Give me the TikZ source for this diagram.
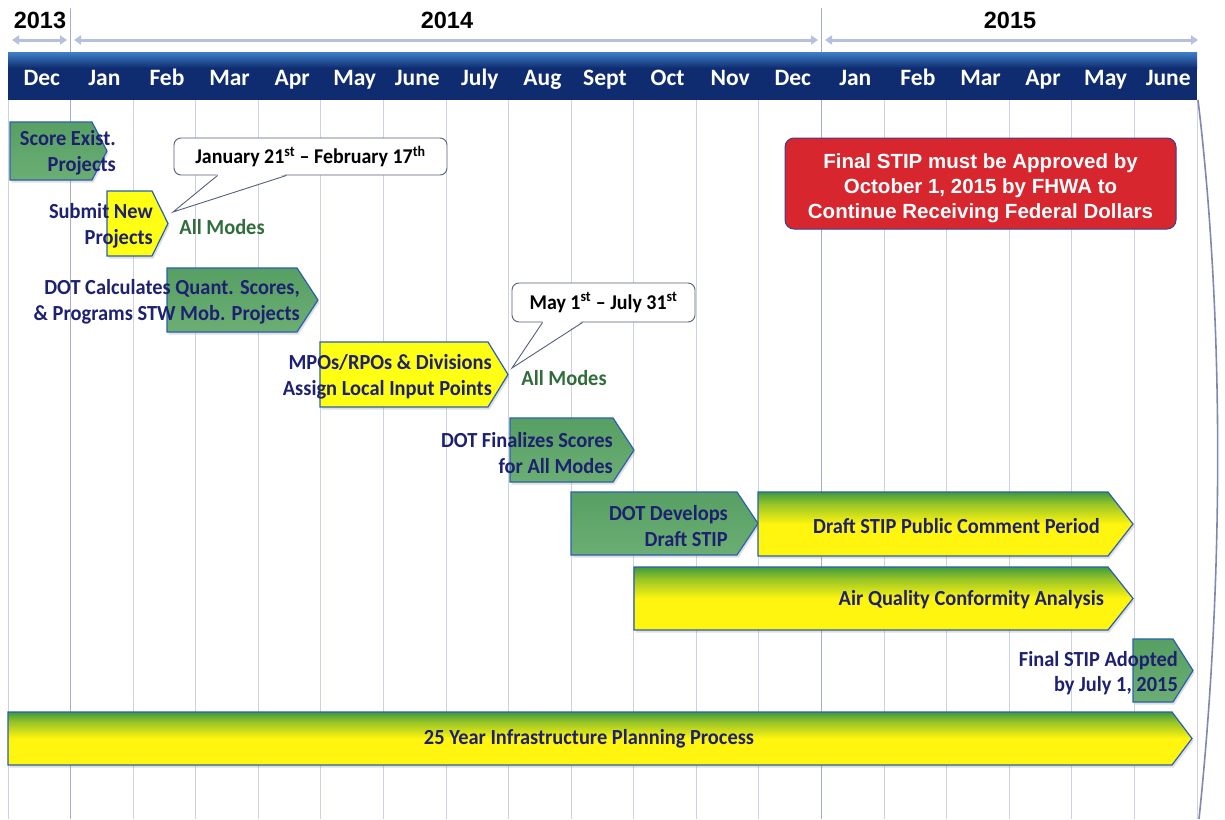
\documentclass[tikz,border=0pt]{standalone}
\usepackage{fontspec}
\setmainfont{Carlito}
\newfontfamily\arl{Liberation Sans}
\newfontfamily\cnd{Carlito}[FakeStretch=0.95,Ligatures=TeX]
\usetikzlibrary{arrows.meta,shadows,calc}
\definecolor{navy}{HTML}{1E2070}
\definecolor{hdrD}{HTML}{0F2C70}
\definecolor{hdrL}{HTML}{3F80C6}
\definecolor{gridc}{HTML}{CDD1E4}
\definecolor{divc}{HTML}{A8AEC8}
\definecolor{yarc}{HTML}{B5C0DD}
\definecolor{grnT}{HTML}{579F63}
\definecolor{grnB}{HTML}{6BAE74}
\definecolor{ylw}{HTML}{FFFF14}
\definecolor{barG}{HTML}{3F9A3D}
\definecolor{barY}{HTML}{FFF50F}
\definecolor{bord}{HTML}{2B5FAE}
\definecolor{redc}{HTML}{D8262F}
\definecolor{redb}{HTML}{3A3F8F}
\definecolor{amc}{HTML}{2F6E3A}
\definecolor{calb}{HTML}{55607F}
\definecolor{edgec}{HTML}{8088B2}
\pgfdeclareverticalshading{gyshade}{100bp}{color(0bp)=(barY); color(25bp)=(barY); color(50bp)=(barY); color(66bp)=(barG!55!barY); color(75bp)=(barG); color(100bp)=(barG)}
\newcommand\arrowbox[6]{\path[#1] (#2,#5) -- (#3,#5) -- (#4,{(#5+#6)/2}) -- (#3,#6) -- (#2,#6) -- cycle;}
\tikzset{
  chev/.style={draw=bord, line width=1.2pt, line join=miter,
    drop shadow={shadow xshift=1.5pt, shadow yshift=-2.5pt, opacity=0.25}},
  chevG/.style={chev, top color=grnT, bottom color=grnB},
  chevY/.style={chev, fill=ylw},
  chevGY/.style={chev, shading=gyshade},
  lbl/.style={text=navy, align=right, inner sep=0pt, anchor=east,
    font=\cnd\fontsize{21.5}{25.5}\selectfont\bfseries},
  month/.style={text=white, inner sep=0pt, anchor=base, font=\fontsize{23.5}{26}\selectfont\bfseries},
  year/.style={text=black, inner sep=0pt, font=\arl\fontsize{23.5}{26}\selectfont\bfseries},
  yarr/.style={draw=yarc, line width=3pt, {Triangle[length=7pt,width=9pt]}-{Triangle[length=7pt,width=9pt]}},
  allm/.style={text=amc, inner sep=0pt, font=\cnd\fontsize{21.5}{25}\selectfont\bfseries},
  callbox/.style={draw=calb, line width=0.9pt, fill=white, rounded corners=7pt, inner sep=0pt,
    font=\cnd\fontsize{21}{24}\selectfont\bfseries, text=black}
}
\begin{document}
\begin{tikzpicture}[x=1pt,y=-1pt]
\useasboundingbox (0,0) rectangle (1225,819);
\fill[white] (0,0) rectangle (1225,819);
% grid
\foreach \k in {0,...,19}{
  \draw[gridc, line width=1pt] ({8+62.58*\k},100) -- ({8+62.58*\k},819);
}
\foreach \k in {1,13}{
  \draw[divc, line width=1.3pt] ({8+62.58*\k},8) -- ({8+62.58*\k},819);
}
% right page edge
\draw[edgec, line width=1.6pt] (1198,100) .. controls (1222,300) and (1226,560) .. (1199,819);
% header band
\fill[hdrD] (8,52) rectangle (1197,100);
\shade[top color=hdrL, bottom color=hdrD] (8,52) rectangle (1197,68);
\foreach \m [count=\i from 0] in {Dec,Jan,Feb,Mar,Apr,May,June,July,Aug,Sept,Oct,Nov,Dec,Jan,Feb,Mar,Apr,May,June}{
  \node[month] (m\i) at ({8+62.58*(\i+0.5)+2.5},85) {\m};
}
% years
\node[year] (y13) at (40,20) {2013};
\node[year] (y14) at (447,20) {2014};
\node[year] (y15) at (1010,20) {2015};
\draw[yarr] (12,40) -- (67,40);
\draw[yarr] (74,40) -- (818,40);
\draw[yarr] (825,40) -- (1198,40);
% chevrons
\arrowbox{chevG}{10}{92}{107}{122}{180}
\arrowbox{chevY}{107}{152}{168}{191}{256}
\arrowbox{chevG}{167}{297}{318}{268}{332}
\arrowbox{chevY}{320}{488}{508}{342}{407}
\arrowbox{chevG}{510}{613}{634}{418}{482}
\arrowbox{chevG}{571}{737}{758}{492}{555}
\arrowbox{chevGY}{758}{1108}{1133}{492}{556}
\arrowbox{chevGY}{634}{1108}{1133}{567}{630}
\arrowbox{chevG}{1133}{1173}{1193}{639}{702}
\arrowbox{chevGY}{8}{1172}{1192}{712}{765}
% labels
\node[lbl] (t1) at (116,153) {Score Exist.\\Projects};
\node[lbl] (t2) at (153,226) {Submit New\\Projects};
\node[lbl] (t3) at (300,302) {DOT Calculates Quant. Scores,\\\& Programs STW Mob. Projects};
\node[lbl] (t4) at (492,377) {MPOs/RPOs \& Divisions\\Assign Local Input Points};
\node[lbl] (t5) at (613,453) {DOT Finalizes Scores\\for All Modes};
\node[lbl] (t6) at (728,526) {DOT Develops\\Draft STIP};
\node[lbl] (t7) at (1100,526) {Draft STIP Public Comment Period};
\node[lbl] (t8) at (1104,600) {Air Quality Conformity Analysis};
\node[lbl] (t9) at (1178,673) {Final STIP Adopted\\by July 1, 2015};
\node[lbl, anchor=center] (t10) at (589,739) {25 Year Infrastructure Planning Process};
\node[allm] (am1) at (222,227) {All Modes};
\node[allm] (am2) at (564,378) {All Modes};
% callout 1
\node[callbox, minimum width=273pt, minimum height=37pt] (c1) at (310.5,156.5) {January 21\textsuperscript{st} \textendash{} February 17\textsuperscript{th}};
\coordinate (tip1) at (173,212);
\fill[white] ($(c1.south west)+(44.5,-1.5)$) -- ($(c1.south west)+(112.5,-1.5)$) -- (tip1) -- cycle;
\draw[calb, line width=0.9pt, line join=miter] ($(c1.south west)+(44,0)$) -- (tip1) -- ($(c1.south west)+(113,0)$);
% callout 2
\node[callbox, minimum width=183pt, minimum height=39pt] (c2) at (603.5,302.5) {May 1\textsuperscript{st} \textendash{} July 31\textsuperscript{st}};
\coordinate (tip2) at (512,368);
\fill[white] ($(c2.south west)+(31.5,-1.5)$) -- ($(c2.south west)+(70.5,-1.5)$) -- (tip2) -- cycle;
\draw[calb, line width=0.9pt, line join=miter] ($(c2.south west)+(31,0)$) -- (tip2) -- ($(c2.south west)+(71,0)$);
% red box
\node[draw=redb, line width=1pt, fill=redc, rounded corners=9pt, minimum width=391pt, minimum height=91pt,
  inner sep=0pt] (red) at (980.5,183.5) {};
\node[text=white, align=center, inner sep=0pt, font=\arl\fontsize{20.5}{25}\selectfont\bfseries] (redtxt) at (980.5,188)
  {Final STIP must be Approved by\\October 1, 2015 by FHWA to\\Continue Receiving Federal Dollars};
\end{tikzpicture}
\end{document}
